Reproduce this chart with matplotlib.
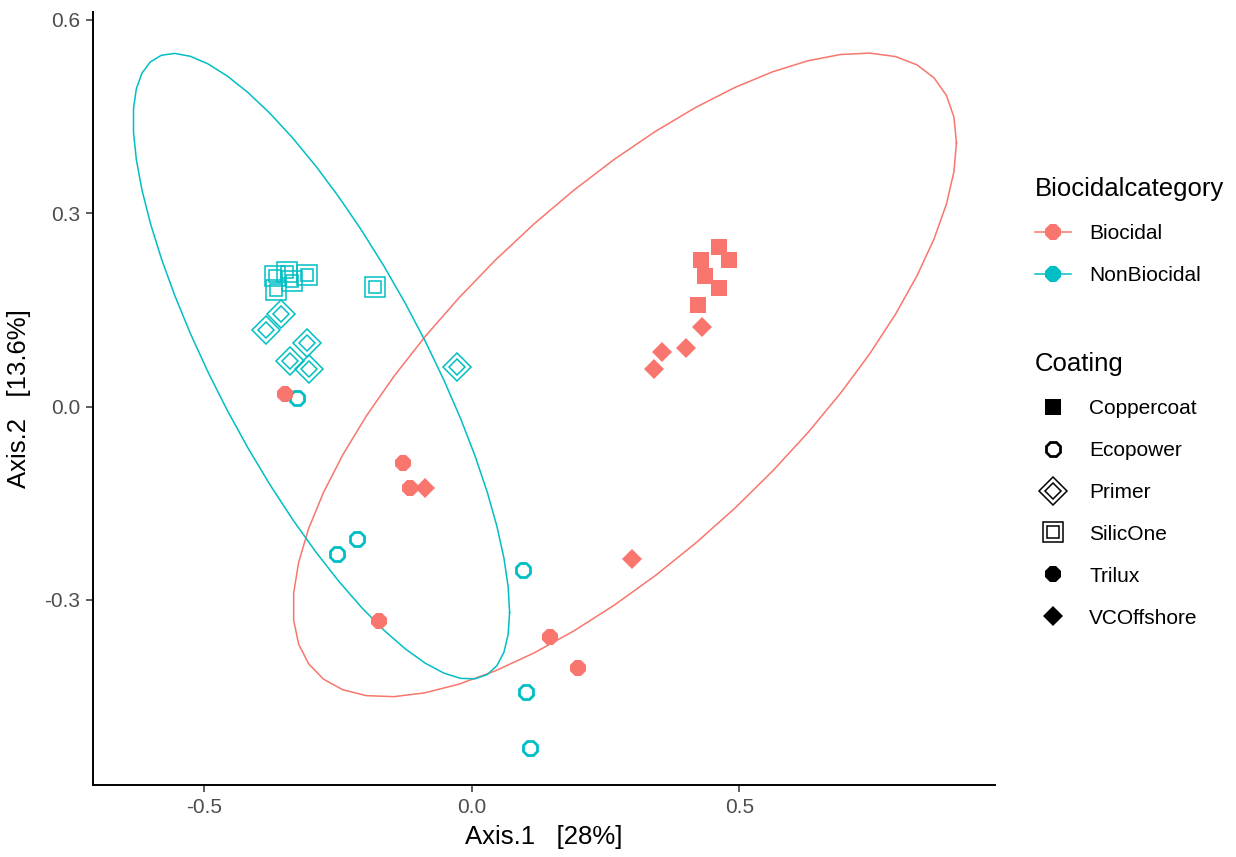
import numpy as np
import matplotlib
matplotlib.use("Agg")
import matplotlib.pyplot as plt
from matplotlib.lines import Line2D
from matplotlib.legend_handler import HandlerTuple

plt.rcParams['font.family'] = ['Liberation Sans', 'DejaVu Sans']

# --- data ---------------------------------------------------------------
coatings = ["Coppercoat", "Ecopower", "Primer", "SilicOne", "Trilux", "VCOffshore"]
categories = ["Biocidal", "NonBiocidal"]

copper_x = [0.422, 0.428, 0.435, 0.462, 0.480, 0.462]
copper_y = [0.157, 0.228, 0.203, 0.247, 0.228, 0.184]

ecopower_x = [-0.326, -0.251, -0.214, 0.096, 0.101, 0.109]
ecopower_y = [0.014, -0.229, -0.206, -0.254, -0.443, -0.530]

primer_x = [-0.355, -0.383, -0.308, -0.340, -0.304, -0.028]
primer_y = [0.143, 0.118, 0.099, 0.070, 0.059, 0.062]

silicone_x = [-0.368, -0.366, -0.345, -0.335, -0.308, -0.180]
silicone_y = [0.202, 0.181, 0.209, 0.195, 0.204, 0.186]

trilux_x = [-0.349, -0.128, -0.116, -0.173, 0.146, 0.199]
trilux_y = [0.020, -0.087, -0.126, -0.333, -0.357, -0.405]

vco_x = [-0.088, 0.300, 0.340, 0.356, 0.400, 0.430]
vco_y = [-0.127, -0.236, 0.059, 0.084, 0.091, 0.124]

colors = {"Biocidal": "#F8766D", "NonBiocidal": "#00BFC4"}
coating_cat = {"Coppercoat": "Biocidal", "Trilux": "Biocidal", "VCOffshore": "Biocidal",
               "Ecopower": "NonBiocidal", "Primer": "NonBiocidal", "SilicOne": "NonBiocidal"}
pts = {"Coppercoat": (copper_x, copper_y), "Ecopower": (ecopower_x, ecopower_y),
       "Primer": (primer_x, primer_y), "SilicOne": (silicone_x, silicone_y),
       "Trilux": (trilux_x, trilux_y), "VCOffshore": (vco_x, vco_y)}


def cov_trob(x, nu=5, maxit=25, tol=0.01):
    # port of MASS::cov.trob, as used by ggplot2::stat_ellipse(type="t")
    n, p = x.shape
    loc = x.mean(axis=0)
    w = np.ones(n)
    for _ in range(maxit):
        w0 = w
        X = x - loc
        _, d, vt = np.linalg.svd(np.sqrt(w / w.sum())[:, None] * X, full_matrices=False)
        wX = X @ vt.T @ np.diag(1 / d)
        Q = (wX ** 2).sum(axis=1)
        w = (nu + p) / (nu + Q)
        loc = (w[:, None] * x).sum(axis=0) / w.sum()
        if np.all(np.abs(w - w0) < tol):
            break
    X = x - loc
    cov = (np.sqrt(w)[:, None] * X).T @ (np.sqrt(w)[:, None] * X) / n
    return loc, cov


def ellipse(x, level=0.95, segments=51):
    loc, shape = cov_trob(x)
    dfn, dfd = 2, x.shape[0] - 1
    fq = dfd / 2 * ((1 - level) ** (-2 / dfd) - 1)   # qf(level, 2, dfd)
    radius = np.sqrt(dfn * fq)
    R = np.linalg.cholesky(shape).T
    a = np.linspace(0, 2 * np.pi, segments + 1)
    circ = np.column_stack([np.cos(a), np.sin(a)])
    return loc + radius * circ @ R


fig = plt.figure(figsize=(12.36, 8.57), dpi=100)
ax = fig.add_axes([0.0752, 0.084, 0.805 - 0.0752, 0.986 - 0.084])

for cat in categories:
    xs = np.concatenate([pts[c][0] for c in coatings if coating_cat[c] == cat])
    ys = np.concatenate([pts[c][1] for c in coatings if coating_cat[c] == cat])
    e = ellipse(np.column_stack([xs, ys]))
    ax.plot(e[:, 0], e[:, 1], color=colors[cat], lw=1.1, zorder=1)


def coat_style(c, col):
    # marker kwargs per coating; the open shapes are drawn as double outlines
    if c == "Coppercoat":
        return [dict(marker="s", ms=12, mfc=col, mec=col, mew=0)]
    if c == "Trilux":
        return [dict(marker="8", ms=12, mfc=col, mec=col, mew=0)]
    if c == "VCOffshore":
        return [dict(marker="D", ms=10.5, mfc=col, mec=col, mew=0)]
    if c == "Ecopower":
        return [dict(marker="8", ms=10.5, mfc="none", mec=col, mew=2.0)]
    if c == "Primer":
        return [dict(marker="D", ms=14, mfc="none", mec=col, mew=1.1),
                dict(marker="D", ms=8.5, mfc="none", mec=col, mew=1.1)]
    if c == "SilicOne":
        return [dict(marker="s", ms=14, mfc="none", mec=col, mew=1.1),
                dict(marker="s", ms=8, mfc="none", mec=col, mew=1.1)]


for c in coatings:
    col = colors[coating_cat[c]]
    for st in coat_style(c, col):
        ax.plot(pts[c][0], pts[c][1], ls="none", zorder=3, **st)

ax.set_xlim(-0.707, 0.977)
ax.set_ylim(-0.587, 0.612)
ax.set_xticks([-0.5, 0.0, 0.5])
ax.set_xticklabels(["-0.5", "0.0", "0.5"])
ax.set_yticks([-0.3, 0.0, 0.3, 0.6])
ax.set_yticklabels(["-0.3", "0.0", "0.3", "0.6"])
for s in ["top", "right"]:
    ax.spines[s].set_visible(False)
for s in ["left", "bottom"]:
    ax.spines[s].set_linewidth(1.4)
    ax.spines[s].set_color("black")
ax.tick_params(length=5, width=1.1, color="#333333", labelcolor="#4D4D4D", labelsize=15, pad=4)
ax.set_xlabel("Axis.1   [28%]", fontsize=18.5, color="black", labelpad=6)
ax.set_ylabel("Axis.2   [13.6%]", fontsize=18.5, color="black", labelpad=10)

# --- legends -------------------------------------------------------------
cat_handles = [Line2D([], [], color=colors[c], lw=1.1, marker="8", ms=12, mew=0) for c in categories]
leg1 = fig.legend(cat_handles, categories, title="Biocidalcategory", loc="upper left",
                  bbox_to_anchor=(0.8223, 0.815), frameon=False, fontsize=15, title_fontsize=18.5,
                  alignment="left", handlelength=1.7, handletextpad=0.9, labelspacing=1.1)

coat_handles = []
for c in coatings:
    sts = coat_style(c, "black")
    hs = tuple(Line2D([], [], ls="none", **st) for st in sts)
    coat_handles.append(hs if len(hs) > 1 else hs[0])
leg2 = fig.legend(coat_handles, coatings, title="Coating", loc="upper left",
                  bbox_to_anchor=(0.8223, 0.611), frameon=False, fontsize=15, title_fontsize=18.5,
                  alignment="left", handlelength=1.7, handletextpad=0.9, labelspacing=1.1,
                  handler_map={tuple: HandlerTuple(ndivide=1, pad=0)})

fig.savefig("out.png", dpi=100)
